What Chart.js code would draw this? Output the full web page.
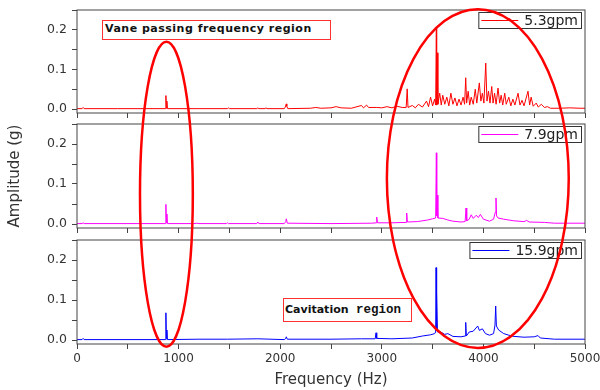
<!DOCTYPE html>
<html>
<head>
<meta charset="utf-8">
<script src="https://cdn.jsdelivr.net/npm/chart.js@4.4.0/dist/chart.umd.min.js"></script>
<style>
  body { margin: 0; background: #fff; }
  #wrap { position: relative; width: 600px; height: 390px; overflow: hidden; }
  #wrap canvas { position: absolute; left: 0; }
  #marks { position: absolute; left: 0; top: 0; }
  .note {
    position: absolute; background: #fff; border: 1.5px solid #ff3030;
    box-sizing: border-box; white-space: nowrap; color: #111;
    font-family: "DejaVu Sans", sans-serif; font-weight: bold; font-size: 11px;
  }
  .mono { font-family: "Liberation Mono", "Courier New", monospace; font-size: 12.5px; }
</style>
</head>
<body>
<div id="wrap">
  <canvas id="c1" width="600" height="120" style="top:0px"></canvas>
  <canvas id="c2" width="600" height="115" style="top:120px"></canvas>
  <canvas id="c3" width="600" height="155" style="top:235px"></canvas>
  <svg id="marks" width="600" height="390"></svg>
  <div class="note" style="left:102px;top:20px;width:229px;height:19.5px;line-height:16.5px;padding-left:2px;letter-spacing:0.5px;">Vane passing frequency region</div>
  <div class="note" style="left:282.5px;top:297.5px;width:129px;height:24px;line-height:21px;padding-left:1.5px;">Cavitation<span class="mono"> region</span></div>
</div>
<script>
// spectrum at 5.3 gpm (Hz / g)
const f53 = [
  0, 50, 60, 70, 400,
  870, 875, 880, 885, 890,
  1200, 1480, 1490, 1500, 1770,
  1780, 1790, 1850, 1860, 1870,
  2040, 2050, 2060, 2065, 2075,
  2300, 2350, 2400, 2500, 2550,
  2600, 2700, 2800, 2820, 2850,
  2870, 2950, 3000, 3050, 3100,
  3150, 3200, 3240, 3250, 3258,
  3300, 3330, 3360, 3400, 3440,
  3460, 3480, 3500, 3520, 3530,
  3537, 3540, 3545, 3552, 3570,
  3585, 3600, 3620, 3640, 3660,
  3680, 3700, 3720, 3740, 3760,
  3780, 3800, 3815, 3826, 3835,
  3850, 3865, 3880, 3900, 3920,
  3935, 3960, 3975, 3990, 4005,
  4023, 4035, 4050, 4065, 4082,
  4095, 4110, 4125, 4144, 4160,
  4175, 4190, 4210, 4225, 4250,
  4270, 4290, 4310, 4341, 4360,
  4380, 4400, 4439, 4455, 4470,
  4490, 4520, 4540, 4570, 4600,
  4630, 4660, 4750, 4850, 4950,
  5000
];
const a53 = [
  0.001, 0.001, 0.004, 0.001, 0.001,
  0.001, 0.034, 0.002, 0.02, 0.001,
  0.001, 0.001, 0.003, 0.001, 0.001,
  0.003, 0.001, 0.001, 0.003, 0.001,
  0.001, 0.005, 0.013, 0.007, 0.001,
  0.002, 0.004, 0.002, 0.003, 0.006,
  0.003, 0.002, 0.009, 0.003, 0.01,
  0.004, 0.004, 0.003, 0.006, 0.003,
  0.007, 0.004, 0.004, 0.051, 0.004,
  0.009, 0.003, 0.012, 0.005, 0.02,
  0.006, 0.03, 0.008, 0.025, 0.01,
  0.205, 0.01, 0.142, 0.012, 0.04,
  0.01, 0.035, 0.012, 0.03, 0.008,
  0.04, 0.012, 0.028, 0.008, 0.025,
  0.01, 0.03, 0.012, 0.079, 0.015,
  0.045, 0.01, 0.03, 0.012, 0.05,
  0.015, 0.066, 0.02, 0.04, 0.015,
  0.116, 0.02, 0.045, 0.015, 0.057,
  0.015, 0.04, 0.012, 0.053, 0.015,
  0.035, 0.01, 0.04, 0.012, 0.03,
  0.008, 0.025, 0.01, 0.04, 0.01,
  0.022, 0.008, 0.045, 0.01, 0.03,
  0.007, 0.015, 0.005, 0.012, 0.004,
  0.006, 0.002, 0.002, 0.003, 0.002,
  0.002
];

// spectrum at 7.9 gpm
const f79 = [
  0, 50, 60, 70, 870,
  875, 880, 885, 890, 1150,
  1180, 1200, 1470, 1480, 1490,
  1770, 1780, 1790, 2040, 2055,
  2060, 2070, 2500, 2900, 2945,
  2950, 2958, 3100, 3240, 3245,
  3252, 3350, 3450, 3500, 3530,
  3537, 3541, 3545, 3552, 3600,
  3650, 3700, 3780, 3820, 3829,
  3836, 3860, 3880, 3900, 3930,
  3950, 3970, 4000, 4060, 4100,
  4118, 4124, 4130, 4145, 4200,
  4300, 4400, 4426, 4450, 4600,
  4700, 5000
];
const a79 = [
  0.001, 0.001, 0.003, 0.001, 0.001,
  0.049, 0.003, 0.025, 0.001, 0.001,
  0.002, 0.001, 0.001, 0.003, 0.001,
  0.001, 0.005, 0.001, 0.001, 0.006,
  0.013, 0.002, 0.001, 0.002, 0.003,
  0.0175, 0.003, 0.003, 0.004, 0.0275,
  0.005, 0.006, 0.01, 0.013, 0.015,
  0.178, 0.02, 0.072, 0.015, 0.014,
  0.01, 0.007, 0.005, 0.006, 0.04,
  0.008, 0.012, 0.023, 0.014, 0.022,
  0.016, 0.024, 0.012, 0.007, 0.012,
  0.03, 0.065, 0.02, 0.015, 0.012,
  0.008, 0.006, 0.009, 0.005, 0.004,
  0.002, 0.002
];

// spectrum at 15.9 gpm
const f159 = [
  0, 50, 60, 70, 870,
  875, 880, 885, 890, 1200,
  1480, 1780, 2040, 2055, 2060,
  2070, 2500, 2800, 2935, 2943,
  2950, 3100, 3300, 3400, 3480,
  3520, 3530, 3534, 3538, 3541,
  3548, 3580, 3620, 3650, 3700,
  3780, 3820, 3826, 3832, 3860,
  3900, 3944, 3960, 3990, 4020,
  4060, 4100, 4114, 4121, 4128,
  4150, 4200, 4250, 4300, 4400,
  4500, 4538, 4560, 4700, 5000
];
const a159 = [
  0.001, 0.001, 0.004, 0.001, 0.001,
  0.068, 0.003, 0.025, 0.001, 0.002,
  0.002, 0.003, 0.001, 0.004, 0.008,
  0.002, 0.002, 0.003, 0.003, 0.018,
  0.004, 0.003, 0.005, 0.01, 0.013,
  0.016, 0.02, 0.181, 0.03, 0.12,
  0.02, 0.02, 0.014, 0.016, 0.009,
  0.008, 0.01, 0.044, 0.01, 0.02,
  0.022, 0.035, 0.024, 0.028, 0.016,
  0.012, 0.016, 0.037, 0.085, 0.035,
  0.025, 0.016, 0.012, 0.009, 0.007,
  0.008, 0.011, 0.005, 0.002, 0.002
];

const seriesLabels = ['5.3gpm', '7.9gpm', '15.9gpm'];
const seriesColors = ['#ff0000', '#ff00ff', '#0000ff'];

const FONT = '"DejaVu Sans", sans-serif';

// box round the plot area
const framePlugin = {
  id: 'frame',
  afterDraw(chart) {
    const a = chart.chartArea, ctx = chart.ctx;
    ctx.save();
    ctx.strokeStyle = '#444';
    ctx.lineWidth = 1;
    ctx.strokeRect(a.left, a.top, a.right - a.left, a.bottom - a.top);
    ctx.restore();
  }
};

// legend in a little box, top right
const legendPlugin = {
  id: 'legendBox',
  afterDatasetsDraw(chart) {
    const ctx = chart.ctx, a = chart.chartArea, ds = chart.data.datasets[0];
    ctx.save();
    ctx.font = '14px ' + FONT;
    const tw = ctx.measureText(ds.label).width;
    const right = a.right - 4, top = a.top + 2, h = 16;
    const left = right - tw - 49;
    ctx.fillStyle = '#fff';
    ctx.fillRect(left, top, right - left, h);
    ctx.strokeStyle = '#333';
    ctx.lineWidth = 1;
    ctx.strokeRect(left + 0.5, top + 0.5, right - left, h);
    ctx.strokeStyle = ds.borderColor;
    ctx.beginPath();
    ctx.moveTo(left + 3, top + h / 2 + 0.5);
    ctx.lineTo(left + 40, top + h / 2 + 0.5);
    ctx.stroke();
    ctx.fillStyle = '#222';
    ctx.textBaseline = 'middle';
    ctx.fillText(ds.label, left + 46, top + h / 2 + 1);
    ctx.restore();
  }
};

function makePanel(id, freq, amp, idx, opt) {
  const ctx = document.getElementById(id).getContext('2d');
  return new Chart(ctx, {
    type: 'line',
    data: {
      datasets: [{
        label: seriesLabels[idx],
        data: freq.map((f, i) => ({ x: f, y: amp[i] })),
        borderColor: seriesColors[idx],
        borderWidth: 1,
        pointRadius: 0,
        tension: 0,
        fill: false
      }]
    },
    options: {
      responsive: false,
      animation: false,
      devicePixelRatio: 1,
      layout: { padding: { top: opt.padTop, right: 15, left: 0, bottom: 0 } },
      plugins: { legend: { display: false }, tooltip: { enabled: false } },
      scales: {
        x: {
          type: 'linear',
          min: 0,
          max: 5000,
          border: { display: false },
          grid: { drawOnChartArea: false, drawTicks: true, tickLength: 5, color: '#444' },
          ticks: {
            stepSize: 500,
            autoSkip: false,
            maxRotation: 0,
            padding: 3,
            color: '#333',
            font: { family: FONT, size: 12 },
            callback: v => (opt.xLabels && v % 1000 === 0) ? String(v) : ''
          },
          title: {
            display: !!opt.xTitle,
            text: 'Frequency (Hz)',
            color: '#333',
            font: { family: FONT, size: 15 },
            padding: { top: 0, bottom: 1 }
          },
          afterFit: s => {
            s.height = opt.xHeight;
            s.paddingLeft = 0;
            s.paddingRight = 0;
          }
        },
        y: {
          min: -0.01,
          max: 0.25,
          border: { display: false },
          grid: { drawOnChartArea: false, drawTicks: true, tickLength: 5, color: '#444' },
          ticks: {
            stepSize: 0.05,
            includeBounds: false,
            padding: 5,
            color: '#333',
            font: { family: FONT, size: 12.5 },
            callback: v => Math.abs(v * 10 - Math.round(v * 10)) < 1e-6 ? v.toFixed(1) : ''
          },
          title: {
            display: !!opt.yTitle,
            text: 'Amplitude (g)',
            color: '#333',
            font: { family: FONT, size: 15 },
            padding: { top: 6, bottom: 0 }
          },
          afterFit: s => {
            s.width = 77;
            s.paddingTop = 0;
            s.paddingBottom = 0;
          }
        }
      }
    },
    plugins: [framePlugin, legendPlugin]
  });
}

const chart1 = makePanel('c1', f53, a53, 0, { padTop: 10, xHeight: 7 });
const chart2 = makePanel('c2', f79, a79, 1, { padTop: 4, xHeight: 7, yTitle: true });
const chart3 = makePanel('c3', f159, a159, 2, { padTop: 5, xHeight: 46, xLabels: true, xTitle: true });

// hand-drawn style ellipses marking the two regions
function drawEllipse(cxHz, rxHz, topVal, bottomVal) {
  const xs = chart3.scales.x;
  const cx = xs.getPixelForValue(cxHz);
  const rx = xs.getPixelForValue(cxHz + rxHz) - cx;
  const top = chart1.scales.y.getPixelForValue(topVal);
  const bottom = 235 + chart3.scales.y.getPixelForValue(bottomVal);
  const el = document.createElementNS('http://www.w3.org/2000/svg', 'ellipse');
  el.setAttribute('cx', cx);
  el.setAttribute('cy', (top + bottom) / 2);
  el.setAttribute('rx', rx);
  el.setAttribute('ry', (bottom - top) / 2);
  el.setAttribute('fill', 'none');
  el.setAttribute('stroke', '#ff0000');
  el.setAttribute('stroke-width', '2.5');
  document.getElementById('marks').appendChild(el);
}

drawEllipse(880, 260, 0.17, -0.017);
drawEllipse(3945, 895, 0.252, -0.02);
</script>
</body>
</html>
